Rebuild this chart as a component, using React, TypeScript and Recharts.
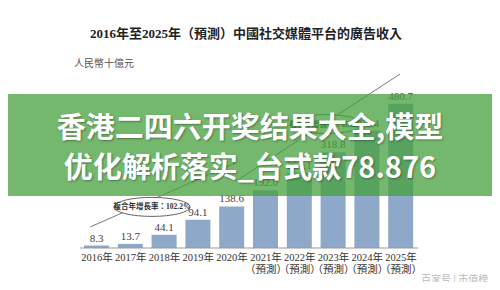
import React from "react";
import {
  BarChart,
  Bar,
  XAxis,
  YAxis,
  LabelList,
  ReferenceLine,
  ReferenceDot,
} from "recharts";

const years = [
  "2016年",
  "2017年",
  "2018年",
  "2019年",
  "2020年",
  "2021年",
  "2022年",
  "2023年",
  "2024年",
  "2025年",
];
const forecast = [false, false, false, false, false, true, true, true, true, true];
const revenue = [8.3, 13.7, 44.1, 94.1, 138.6, 192.6, 251.1, 318.8, 391.4, 480.7];
const cagrNotes = ["複合年增長率：102.2%", "複合年增長率：28.2%"];

const data = years.map((year, i) => ({ idx: i, year, revenue: revenue[i] }));

const serif = '"Liberation Serif", "Noto Sans CJK TC", serif';

const YearTick = (props: any) => {
  const { x, y, payload } = props;
  const i = payload.value as number;
  return (
    <g>
      <text x={x} y={y + 13} textAnchor="middle" fontSize={10.5} fill="#333" fontFamily={serif}>
        {years[i]}
      </text>
      {forecast[i] && (
        <text x={x} y={y + 25} textAnchor="middle" fontSize={10.5} fill="#333" fontFamily={serif}>
          （預測）
        </text>
      )}
    </g>
  );
};

const Bubble = (text: string, rx: number) => (props: any) => {
  const { cx, cy } = props;
  return (
    <g>
      <ellipse cx={cx} cy={cy} rx={rx} ry={9.5} fill="#fff" stroke="#555" strokeWidth={0.9} />
      <text
        x={cx}
        y={cy + 2.5}
        textAnchor="middle"
        fontSize={7.5}
        fontWeight="bold"
        fill="#333"
        fontFamily={serif}
      >
        {text}
      </text>
    </g>
  );
};

const App: React.FC = () => {
  return (
    <div
      style={{
        position: "relative",
        width: 500,
        height: 290,
        margin: -8,
        background: "#fff",
        overflow: "hidden",
      }}
    >
      <BarChart
        width={500}
        height={290}
        data={data}
        margin={{ top: 8, right: 82, bottom: 6, left: 80 }}
      >
        <XAxis
          dataKey="idx"
          type="number"
          domain={[-0.5, 9.5]}
          ticks={[0, 1, 2, 3, 4, 5, 6, 7, 8, 9]}
          tick={<YearTick />}
          tickLine={false}
          tickSize={0}
          tickMargin={0}
          height={36}
          axisLine={{ stroke: "#999", strokeWidth: 1 }}
        />
        <YAxis hide domain={[0, 800]} />
        <Bar dataKey="revenue" fill="#8da8c8" barSize={25} isAnimationActive={false}>
          <LabelList
            dataKey="revenue"
            position="top"
            offset={4}
            fontSize={11}
            fill="#444"
            fontFamily={serif}
          />
        </Bar>
        <ReferenceLine
          segment={[
            { x: -0.2, y: 70 },
            { x: 4.09, y: 283 },
          ]}
          stroke="#555"
          strokeWidth={0.8}
          ifOverflow="visible"
        />
        <ReferenceLine
          segment={[
            { x: 4.17, y: 227 },
            { x: 8.97, y: 580 },
          ]}
          stroke="#555"
          strokeWidth={0.8}
          ifOverflow="visible"
        />
        <ReferenceDot
          x={1.63}
          y={137}
          ifOverflow="visible"
          shape={Bubble(cagrNotes[0], 38)}
        />
        <ReferenceDot
          x={6.78}
          y={413}
          ifOverflow="visible"
          shape={Bubble(cagrNotes[1], 36)}
        />
      </BarChart>

      <div
        style={{
          position: "absolute",
          top: 23,
          left: 0,
          width: 492,
          textAlign: "center",
          fontFamily: serif,
          fontWeight: "bold",
          fontSize: 13,
          color: "#222",
        }}
      >
        2016年至2025年（預測）中國社交媒體平台的廣告收入
      </div>
      <div
        style={{
          position: "absolute",
          top: 55,
          left: 74,
          fontFamily: serif,
          fontSize: 10,
          color: "#555",
        }}
      >
        人民幣十億元
      </div>

      <div
        style={{
          position: "absolute",
          top: 94,
          left: 0,
          width: 500,
          height: 102,
          background: "rgba(70,160,60,0.75)",
          display: "flex",
          flexDirection: "column",
          justifyContent: "center",
          alignItems: "center",
          color: "#fff",
          fontFamily: '"Noto Sans CJK SC", "Noto Sans", sans-serif',
          fontWeight: "bold",
          fontSize: 29,
          lineHeight: "40px",
          textShadow: "1px 1px 2px rgba(0,0,0,0.35)",
        }}
      >
        <div>香港二四六开奖结果大全,模型</div>
        <div>优化解析落实_台式款78.876</div>
      </div>

      <div
        style={{
          position: "absolute",
          top: 271,
          left: 421,
          fontFamily: '"Noto Sans CJK SC", sans-serif',
          fontSize: 10,
          color: "#bbb",
          whiteSpace: "nowrap",
        }}
      >
        百家号 | 市值榜
      </div>
    </div>
  );
};

export default App;
